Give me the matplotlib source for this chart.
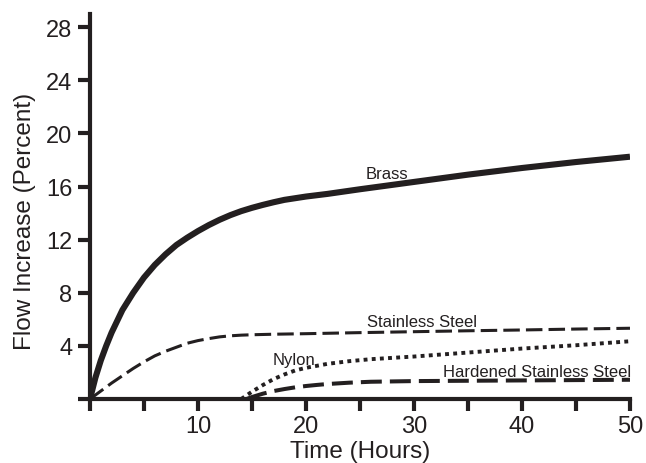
import matplotlib
matplotlib.use("Agg")
import matplotlib.pyplot as plt

plt.rcParams['font.family'] = ['Liberation Sans', 'DejaVu Sans']

INK = '#231f20'

brass_x = [0, 0.5, 1, 1.5, 2, 3, 4, 5, 6, 7, 8, 9, 10, 11, 12, 13, 14, 15, 16, 17, 18, 20, 22, 25, 30, 35, 40, 45, 50]
brass_y = [0, 1.6, 2.9, 4.0, 5.0, 6.7, 8.0, 9.15, 10.1, 10.9, 11.6, 12.15, 12.65, 13.1, 13.5, 13.85, 14.15, 14.4, 14.62, 14.82, 15.0, 15.25, 15.45, 15.8, 16.35, 16.9, 17.4, 17.85, 18.25]

ss_x = [0, 1, 2, 3, 4, 5, 6, 7, 8, 9, 10, 11, 12, 13, 14, 15, 17, 20, 25, 30, 35, 40, 45, 50]
ss_y = [0, 0.6, 1.2, 1.75, 2.3, 2.8, 3.25, 3.6, 3.9, 4.2, 4.4, 4.55, 4.68, 4.76, 4.81, 4.84, 4.88, 4.92, 5.0, 5.07, 5.14, 5.2, 5.27, 5.33]

nylon_x = [14, 15, 16, 17, 18, 19, 20, 21, 22, 24, 26, 30, 35, 40, 45, 50]
nylon_y = [0, 0.55, 1.05, 1.5, 1.85, 2.15, 2.35, 2.5, 2.65, 2.85, 3.0, 3.2, 3.5, 3.8, 4.05, 4.35]

hss_x = [14.5, 15, 16, 17, 18, 19, 20, 21, 22, 24, 26, 30, 40, 50]
hss_y = [0, 0.15, 0.4, 0.6, 0.75, 0.88, 0.98, 1.06, 1.13, 1.23, 1.3, 1.35, 1.4, 1.45]

x_ticks = [0, 5, 10, 15, 20, 25, 30, 35, 40, 45, 50]
x_labels = ['', '', '10', '', '20', '', '30', '', '40', '', '50']
y_ticks = [0, 4, 8, 12, 16, 20, 24, 28]
y_labels = ['', '4', '8', '12', '16', '20', '24', '28']

fig = plt.figure(figsize=(6.46, 4.64), dpi=100)
ax = fig.add_axes([0.1393, 0.1379, 0.9752 - 0.1393, 0.9677 - 0.1379])

ax.plot(brass_x, brass_y, color=INK, lw=4.4, solid_capstyle='butt', zorder=3)
ax.plot(ss_x, ss_y, color=INK, lw=2.2, dashes=(5.4, 2.0), zorder=3)
ax.plot(nylon_x, nylon_y, color=INK, lw=2.8, dashes=(1, 1.1), zorder=3)
ax.plot(hss_x, hss_y, color=INK, lw=2.9, dashes=(5.2, 2.0), zorder=3)

lab = dict(fontsize=12, color=INK, ha='center', va='baseline')
ax.text(27.5, 16.64, 'Brass', **lab)
ax.text(30.74, 5.47, 'Stainless Steel', **lab)
ax.text(18.9, 2.6, 'Nylon', **lab)
ax.text(41.44, 1.71, 'Hardened Stainless Steel', **lab)

ax.set_xlim(0, 50)
ax.set_ylim(0, 29)
ax.set_xticks(x_ticks)
ax.set_xticklabels(x_labels)
ax.set_yticks(y_ticks)
ax.set_yticklabels(y_labels)

for s in ['top', 'right']:
    ax.spines[s].set_visible(False)
for s in ['left', 'bottom']:
    ax.spines[s].set_linewidth(3)
    ax.spines[s].set_color(INK)
ax.tick_params(axis='both', direction='out', length=8.6, width=3, color=INK,
               labelsize=17, labelcolor=INK)
ax.tick_params(axis='x', pad=3)
ax.tick_params(axis='y', pad=4)

ax.set_xlabel('Time (Hours)', fontsize=17.5, color=INK)
ax.set_ylabel('Flow Increase (Percent)', fontsize=17.5, color=INK)
ax.xaxis.set_label_coords(0.5, -0.135)
ax.yaxis.set_label_coords(-0.12, 0.465)
ax.xaxis.label.set_va('center')
ax.yaxis.label.set_va('center')

fig.savefig('out.png', dpi=100)
